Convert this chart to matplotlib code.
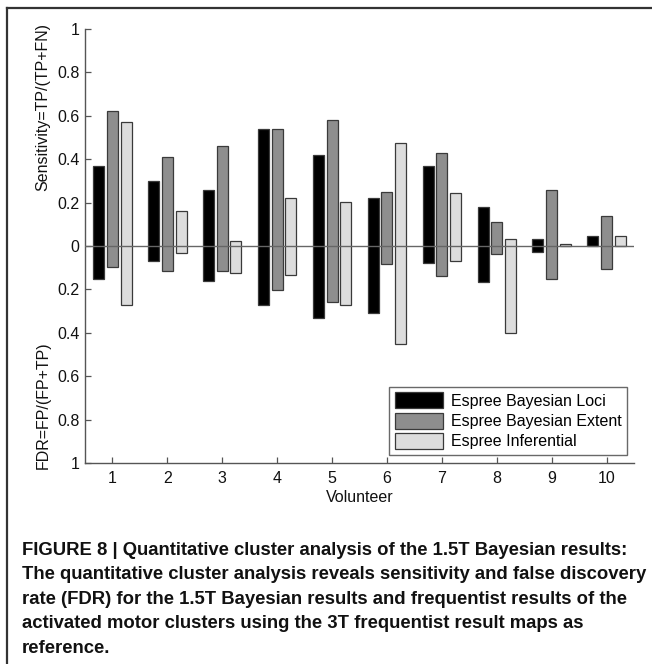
import numpy as np
import matplotlib
matplotlib.use('Agg')
import matplotlib.pyplot as plt
from matplotlib.lines import Line2D

plt.rcParams['font.family'] = ['Liberation Sans', 'DejaVu Sans']

volunteers = [1, 2, 3, 4, 5, 6, 7, 8, 9, 10]
series_names = ['Espree Bayesian Loci', 'Espree Bayesian Extent', 'Espree Inferential']

# sensitivity (up) and FDR (down) for each method
sens_loci = [0.37, 0.30, 0.26, 0.54, 0.42, 0.22, 0.37, 0.18, 0.03, 0.045]
fdr_loci = [0.15, 0.07, 0.16, 0.27, 0.33, 0.31, 0.08, 0.165, 0.026, 0.0]
sens_extent = [0.62, 0.41, 0.46, 0.54, 0.58, 0.25, 0.43, 0.11, 0.26, 0.14]
fdr_extent = [0.095, 0.115, 0.115, 0.205, 0.26, 0.085, 0.14, 0.035, 0.15, 0.105]
sens_infer = [0.57, 0.16, 0.025, 0.22, 0.205, 0.475, 0.245, 0.03, 0.008, 0.045]
fdr_infer = [0.27, 0.03, 0.125, 0.135, 0.27, 0.45, 0.07, 0.40, 0.0, 0.0]

ytick_vals = [-1, -0.8, -0.6, -0.4, -0.2, 0, 0.2, 0.4, 0.6, 0.8, 1]

caption = ("FIGURE 8 | Quantitative cluster analysis of the 1.5T Bayesian results:\n"
           "The quantitative cluster analysis reveals sensitivity and false discovery\n"
           "rate (FDR) for the 1.5T Bayesian results and frequentist results of the\n"
           "activated motor clusters using the 3T frequentist result maps as\n"
           "reference.")

colors = ['#000000', '#8e8e8e', '#dddddd']
edge = '#3a3a3a'
fs = 11.5

fig = plt.figure(figsize=(6.52, 6.64), dpi=100)
ax = fig.add_axes([85/652, 1 - 463/664, 549/652, 434/664])

x = np.array(volunteers, dtype=float)
offsets = [-0.25, 0.0, 0.25]
sens_all = [sens_loci, sens_extent, sens_infer]
fdr_all = [fdr_loci, fdr_extent, fdr_infer]
for i in range(3):
    s = np.array(sens_all[i])
    f = np.array(fdr_all[i])
    ax.bar(x + offsets[i], s + f, bottom=-f, width=0.2, color=colors[i],
           edgecolor=edge, linewidth=0.9, label=series_names[i], zorder=2)

ax.axhline(0, color='#666666', linewidth=1.0, zorder=3)

ax.set_xlim(0.5, 10.5)
ax.set_ylim(-1, 1)
ax.set_xticks(volunteers)
ax.set_yticks(ytick_vals)
ax.set_yticklabels(['%g' % abs(v) for v in ytick_vals])
for sp in ['top', 'right']:
    ax.spines[sp].set_visible(False)
for sp in ['left', 'bottom']:
    ax.spines[sp].set_color('#555555')
    ax.spines[sp].set_linewidth(1.0)
ax.tick_params(axis='both', direction='in', length=4, width=0.9, color='#555555',
               labelsize=fs, labelcolor='#111111')
ax.tick_params(axis='x', pad=6)
ax.tick_params(axis='y', pad=4)
ax.set_xlabel('Volunteer', fontsize=fs, color='#111111', labelpad=3)

fig.text(43/652, 1 - 107/664, 'Sensitivity=TP/(TP+FN)', rotation=90,
         ha='center', va='center', fontsize=fs, color='#111111')
fig.text(43/652, 1 - 405/664, 'FDR=FP/(FP+TP)', rotation=90,
         ha='center', va='center', fontsize=fs, color='#111111')

leg = ax.legend(loc='lower right', bbox_to_anchor=(627/652, 1 - 455/664),
                bbox_transform=fig.transFigure, fontsize=fs, fancybox=False,
                handlelength=3.0, handleheight=1.15, handletextpad=0.5,
                labelspacing=0.25, borderpad=0.35, borderaxespad=0)
leg.get_frame().set_edgecolor('#444444')
leg.get_frame().set_linewidth(1.0)

# page frame (left and top edges)
fig.add_artist(Line2D([7/652, 7/652], [0, 1 - 8/664], transform=fig.transFigure,
                      color='#333333', linewidth=1.6))
fig.add_artist(Line2D([7/652, 1], [1 - 8/664, 1 - 8/664], transform=fig.transFigure,
                      color='#333333', linewidth=1.6))

fig.text(22/652, 1 - 542/664, caption, ha='left', va='top', fontsize=13.3,
         fontweight='bold', color='#111111', linespacing=1.57)

fig.savefig('out.png', dpi=100)
